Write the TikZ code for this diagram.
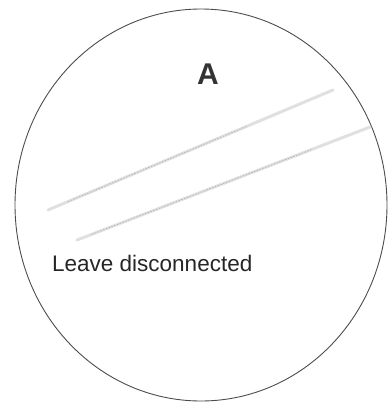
\documentclass[tikz,border=0pt]{standalone}
\usepackage{fontspec}
\setmainfont{Liberation Sans}
\usetikzlibrary{shapes.geometric,calc}
\begin{document}
\begin{tikzpicture}[x=1pt,y=-1pt,
  ring/.style={draw=black!70,line width=0.9pt,ellipse,minimum width=372pt,minimum height=392pt,inner sep=0pt},
  trace/.style={draw=black!12,line width=3pt,line cap=round},
  tracedots/.style={draw=black!35,line width=0.5pt,dash pattern=on 1.5pt off 1.5pt},
  lbl/.style={text=black!85,inner sep=0pt,anchor=base west,font=\fontsize{22.5}{26}\selectfont}]
\useasboundingbox (0,0) rectangle (388,402);
\node[ring] (circ) at (201,205) {};
\node[text=black!80,font=\bfseries\fontsize{30}{34}\selectfont,inner sep=0pt] (A) at (208,74) {A};
\coordinate (l1a) at (48,210);
\coordinate (l1b) at (333,90);
\coordinate (l2a) at (77,240);
\coordinate (l2b) at (370,127);
\draw[trace] (l1a) -- (l1b);
\draw[trace] (l2a) -- (l2b);
\draw[tracedots] ($(l1a)!0.07!(l1b)$) -- ($(l1a)!0.7!(l1b)$);
\draw[tracedots] ($(l2a)!0.05!(l2b)$) -- ($(l2a)!0.8!(l2b)$);
\node[lbl] (txt) at (52,271) {Leave disconnected};
\end{tikzpicture}
\end{document}
